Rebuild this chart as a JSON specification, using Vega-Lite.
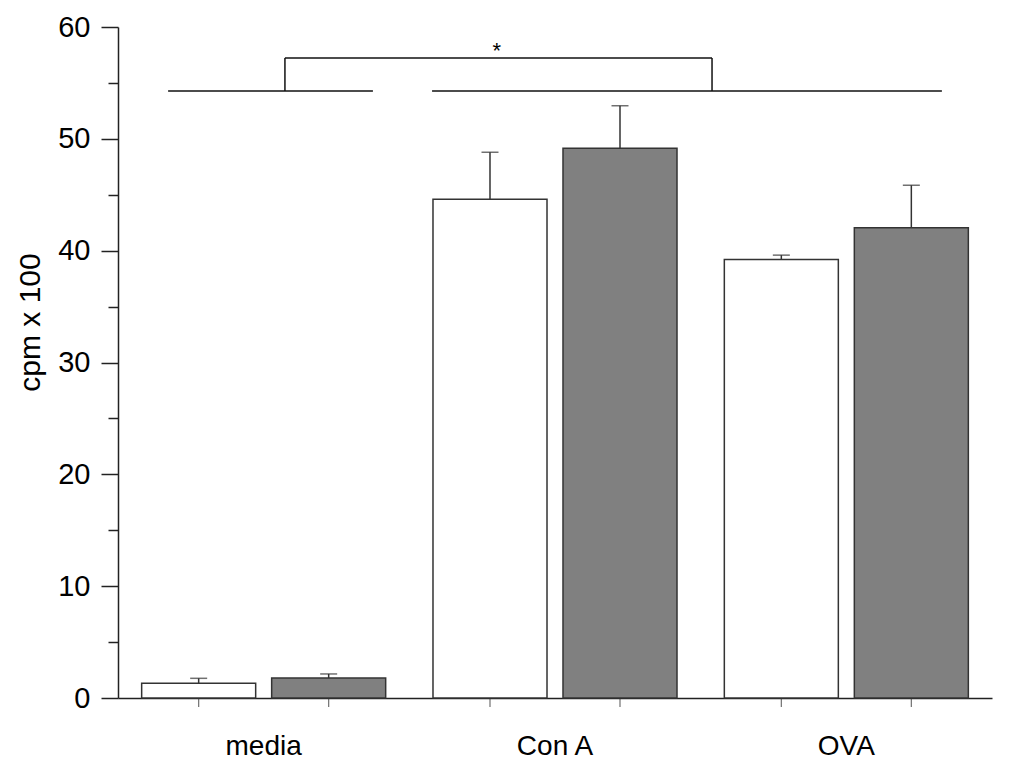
{
  "$schema": "https://vega.github.io/schema/vega-lite/v6.json",
  "width": 874,
  "height": 671,
  "autosize": "none",
  "padding": {"left": 118, "top": 27, "right": 29, "bottom": 73},
  "background": "white",
  "config": {
    "view": {"stroke": null},
    "font": "Liberation Sans",
    "axis": {"labelFont": "Liberation Sans", "titleFont": "Liberation Sans", "labelColor": "#000000", "titleColor": "#000000", "grid": false}
  },
  "datasets": {
    "bars": [
      {"group": "media", "series": "Group 1", "value": 1.31, "upper": 1.76},
      {"group": "media", "series": "Group 2", "value": 1.79, "upper": 2.15},
      {"group": "Con A", "series": "Group 1", "value": 44.6, "upper": 48.8},
      {"group": "Con A", "series": "Group 2", "value": 49.15, "upper": 52.96},
      {"group": "OVA", "series": "Group 1", "value": 39.2, "upper": 39.6},
      {"group": "OVA", "series": "Group 2", "value": 42.06, "upper": 45.85}
    ],
    "bracket": [
      {"pos": 0.172, "pos2": 0.875, "level": 54.28, "level2": 54.28},
      {"pos": 1.078, "pos2": 2.828, "level": 54.28, "level2": 54.28},
      {"pos": 0.573, "pos2": 2.039, "level": 57.23, "level2": 57.23},
      {"pos": 0.573, "pos2": 0.573, "level": 54.28, "level2": 57.23},
      {"pos": 2.039, "pos2": 2.039, "level": 54.28, "level2": 57.23}
    ],
    "star": [{"pos": 1.3, "level": 57.23, "label": "*"}]
  },
  "layer": [
    {
      "data": {"name": "bars"},
      "encoding": {
        "x": {
          "field": "group", "type": "nominal", "sort": ["media", "Con A", "OVA"],
          "scale": {"paddingInner": 0, "paddingOuter": 0},
          "axis": {"title": null, "ticks": false, "tickSize": 0, "labelAngle": 0, "labelFontSize": 28, "labelPadding": 34, "domainColor": "#222222", "domainWidth": 1.5}
        },
        "xOffset": {"field": "series", "type": "nominal", "scale": {"paddingInner": 0.123, "paddingOuter": 0.182}}
      },
      "layer": [
        {
          "mark": {"type": "bar", "stroke": "#333333", "strokeWidth": 1.5},
          "encoding": {
            "y": {
              "field": "value", "type": "quantitative", "stack": null,
              "scale": {"domain": [0, 60], "nice": false, "zero": true},
              "axis": {
                "orient": "left",
                "title": "cpm x 100", "titleFontSize": 30, "titleFontWeight": "normal",
                "titleX": -88, "titleY": 295, "titleBaseline": "middle", "titleAlign": "center", "titleAngle": -90,
                "values": [0, 5, 10, 15, 20, 25, 30, 35, 40, 45, 50, 55, 60],
                "labelExpr": "datum.value % 10 === 0 ? datum.label : ''",
                "tickSize": {"condition": {"test": "datum.value % 10 === 0", "value": 17}, "value": 10},
                "labelPadding": 11, "labelFontSize": 29,
                "tickColor": "#222222", "tickWidth": 1.5, "domainColor": "#222222", "domainWidth": 1.5
              }
            },
            "fill": {"field": "series", "type": "nominal", "scale": {"range": ["#ffffff", "#808080"]}, "legend": null}
          }
        },
        {
          "mark": {"type": "rule", "color": "#333333", "strokeWidth": 1.5},
          "encoding": {
            "y": {"field": "value", "type": "quantitative"},
            "y2": {"field": "upper"}
          }
        },
        {
          "mark": {"type": "tick", "color": "#333333", "size": 17, "thickness": 1.5},
          "encoding": {
            "y": {"field": "upper", "type": "quantitative"}
          }
        },
        {
          "mark": {"type": "tick", "orient": "vertical", "color": "#333333", "size": 9, "thickness": 1.2, "yOffset": 4.5},
          "encoding": {
            "y": {"datum": 0, "type": "quantitative"}
          }
        }
      ]
    },
    {
      "layer": [
        {
          "data": {"name": "bracket"},
          "mark": {"type": "rule", "color": "#111111", "strokeWidth": 1.5},
          "encoding": {
            "x": {"field": "pos", "type": "quantitative", "scale": {"domain": [0, 3], "nice": false, "zero": false}, "axis": null},
            "x2": {"field": "pos2"},
            "y": {"field": "level", "type": "quantitative"},
            "y2": {"field": "level2"}
          }
        },
        {
          "data": {"name": "star"},
          "mark": {"type": "text", "fontSize": 22, "baseline": "alphabetic", "align": "center", "dy": 0, "color": "#000000"},
          "encoding": {
            "x": {"field": "pos", "type": "quantitative", "axis": null},
            "y": {"field": "level", "type": "quantitative"},
            "text": {"field": "label"}
          }
        }
      ]
    }
  ],
  "resolve": {"scale": {"x": "independent"}}
}
